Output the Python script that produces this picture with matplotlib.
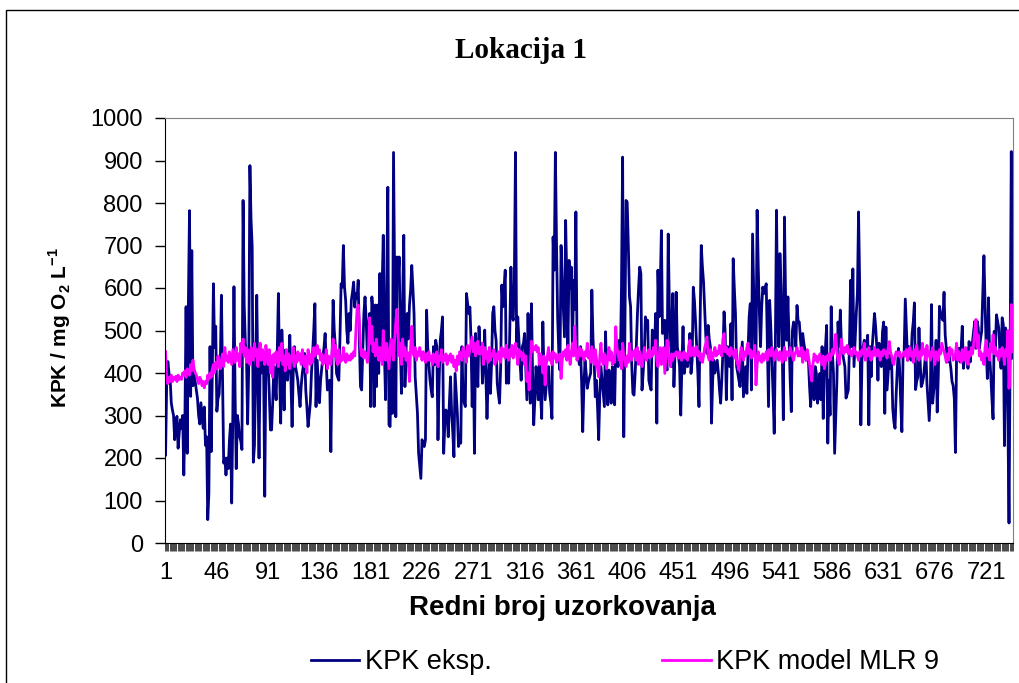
import numpy as np
import matplotlib.pyplot as plt
from matplotlib.patches import Rectangle

plt.rcParams['font.family'] = ['Liberation Sans', 'DejaVu Sans']
plt.rcParams['mathtext.fontset'] = 'custom'
plt.rcParams['mathtext.rm'] = 'Liberation Sans'
plt.rcParams['mathtext.bf'] = 'Liberation Sans:bold'

# KPK measured (mg O2/L), sample 1..744
kpk_eksp = [
    207, 380, 427, 400, 387, 330, 313, 300, 243, 280,
    298, 223, 260, 290, 270, 300, 160, 300, 556, 211,
    560, 782, 345, 688, 370, 400, 380, 360, 340, 300,
    280, 330, 300, 270, 320, 230, 250, 55, 117, 462,
    215, 400, 610, 460, 510, 310, 340, 350, 420, 583,
    380, 188, 200, 160, 200, 175, 240, 280, 94, 300,
    603, 350, 175, 300, 280, 250, 240, 220, 806, 560,
    470, 440, 280, 420, 888, 760, 697, 190, 230, 400,
    583, 380, 200, 430, 400, 450, 420, 110, 430, 420,
    422, 350, 266, 266, 330, 415, 380, 337, 450, 587,
    400, 282, 501, 420, 313, 454, 400, 383, 430, 489,
    380, 274, 400, 462, 415, 400, 383, 350, 321, 370,
    400, 420, 446, 360, 320, 274, 300, 330, 400, 446,
    500, 563, 321, 430, 380, 330, 383, 410, 438, 460,
    493, 420, 360, 370, 383, 215, 420, 571, 500, 462,
    399, 390, 383, 480, 610, 602, 700, 602, 571, 500,
    470, 540, 500, 571, 590, 614, 555, 587, 575, 618,
    480, 368, 360, 450, 540, 579, 525, 446, 500, 540,
    321, 579, 540,
    321, 560, 368, 560, 399, 634, 462,
    600, 724, 450, 337, 600, 837, 278, 274, 462, 305,
    919, 600, 297, 673, 620, 673, 462, 352, 571, 724,
    368, 450, 540, 480, 560, 595, 653, 600, 540, 391,
    350, 305, 211, 180, 152, 243, 235, 227, 243, 548,
    462, 420, 383, 360, 344, 462, 420, 477, 462, 243,
    380, 477, 500, 532, 211, 280, 313, 305, 250, 330,
    391, 305, 260, 203, 399, 350, 305, 227, 243, 235,
    462, 344, 330, 321, 587, 563, 540, 555, 477, 321,
    462, 211, 493, 420, 368, 509, 450,
    469, 376, 420,
    501, 400, 293, 380, 446, 352, 420, 540, 556, 500,
    477, 376, 350, 329, 415, 607, 556, 600, 642, 376,
    400, 376, 500, 649, 540, 524, 620, 919, 462, 532,
    480, 423, 383, 462, 470, 493, 415, 337, 540, 400,
    329, 563, 400, 278, 337, 415, 380, 337, 438, 350,
    293, 520, 400, 337, 368, 400, 415, 352, 330, 293,
    720, 642, 919, 704, 532, 450, 407, 700, 618, 550,
    485, 759, 618, 462, 665, 600, 649, 446, 618, 550,
    779, 462, 446, 420, 462, 380, 262, 368, 430, 400,
    364, 380, 390, 400, 595, 480, 430, 344, 383, 320,
    243, 352, 415, 383, 350, 321, 497, 400, 325, 407,
    360, 329, 415, 380, 325, 462, 440, 415, 477, 430,
    600, 908, 250, 500, 806, 802, 700, 580, 556, 420,
    352, 348, 400, 462, 540, 600, 649, 634, 360, 400,
    446, 532, 520, 524, 383, 370, 360, 501, 480, 462,
    540, 282, 642, 532, 600, 735, 493, 500, 524, 423,
    407, 727, 560, 477, 415, 587, 368, 450, 590, 462,
    440, 415, 301, 420, 509, 399, 420, 430, 415, 450,
    493, 399, 430,
    602, 571, 520, 462, 400, 321, 524,
    700, 650, 614, 550, 485, 446, 512, 480, 462, 282,
    383, 430, 400, 415, 430, 400, 360, 329, 383, 450,
    544, 493, 337, 462, 420, 415, 516, 337, 669, 600,
    540, 415, 400, 383, 368, 420, 473, 344, 380, 415,
    352, 450, 532, 563, 360, 727, 600, 462, 430, 783,
    650, 540, 462, 556, 602, 587, 600, 610, 462, 321,
    571, 508, 430, 350, 258, 462, 783, 540, 462, 681,
    600, 462, 290, 767, 571, 477, 579, 480, 383, 309,
    501, 520, 501, 462, 559, 520,
    520, 480, 446, 493,
    470, 454, 430, 440, 430, 368, 321, 415, 380, 337,
    415, 399, 329, 360, 399, 337, 462, 293, 400, 462,
    512, 235, 383, 301, 556, 450, 399, 211, 300, 383,
    520, 462, 548, 462, 446, 430, 415, 341, 350, 360,
    462, 618, 462, 645, 415, 480, 540, 587, 779, 602,
    278, 430, 462, 477, 470, 462, 489, 278, 462, 391,
    462, 500, 540, 508, 462, 383, 470, 440, 415, 497,
    520, 305, 508, 360, 400, 442, 411, 426, 316, 285,
    270, 350, 411, 458, 411, 330, 262, 435, 450,
    574,
    500, 430, 462, 440, 430, 493, 520, 565, 361, 380,
    391, 506, 430, 368, 376, 391, 420, 454, 376, 330,
    288, 355, 561, 329, 360, 383, 477, 308, 399, 557,
    540, 530, 524, 590, 490, 458, 426, 458, 430, 411,
    380, 370, 340, 213, 442, 450, 458, 426, 458, 510,
    411, 435, 450, 458, 411, 474, 426, 458, 474, 500,
    522, 458, 522, 506, 458, 480, 498, 585, 676, 560,
    458, 387, 577, 442, 395, 340, 292, 498, 458, 537,
    522, 506, 450, 411, 530, 514, 229, 506, 458, 300,
    47, 458, 921, 435,
]

# KPK predicted by the MLR 9 model
kpk_mlr9 = [
    450, 385, 375, 390, 380, 395, 380, 390, 385, 392,
    380, 395, 385, 390, 385, 400, 395, 405, 390, 410,
    400, 395, 420, 405, 430, 410, 400, 395, 385, 375,
    390, 385, 370, 380, 365, 380, 375, 395, 385, 400,
    390, 410, 420, 400, 425, 410, 440, 420, 410, 430,
    445, 415, 460, 430, 440, 425, 450, 435, 420, 455,
    440, 425, 460, 430, 445, 415, 470, 450, 480, 440,
    460, 425, 455, 440, 420, 460, 445, 430, 470, 440,
    455, 415, 450, 470, 430, 455, 440, 420, 465, 445,
    420, 455, 400, 440, 390, 445, 425, 450, 430, 415,
    460, 430, 470, 420, 440, 405, 455, 420, 445, 410,
    440, 430, 460, 415, 440, 425, 450, 430, 445, 420,
    455, 430, 415, 440, 400, 455, 435, 420, 445, 425,
    460, 440, 450, 465, 445, 455, 430, 445, 420, 440,
    425, 455, 410, 440, 430, 420, 450, 480, 440, 465,
    430, 420, 455, 425, 440, 430, 460, 435, 425, 445,
    430, 440, 430, 445, 435, 450, 440, 500, 550, 560,
    520, 460, 440, 455, 435, 450, 440, 425, 445, 530,
    470, 510, 450,
    470, 440, 480, 450, 430, 460, 440,
    420, 500, 450, 430, 470, 440, 410, 460, 480, 445,
    430, 480, 520, 550, 490, 440, 470, 420, 480, 440,
    460, 430, 450, 420, 380, 460, 510, 450, 440, 460,
    430, 450, 440, 460, 445, 430, 450, 440, 425, 445,
    430, 450, 430, 440, 420, 445, 430, 425, 450, 415,
    440, 430, 455, 425, 440, 430, 445, 420, 440, 430,
    445, 425, 440, 415, 430, 405, 440, 420, 450, 440,
    430, 460, 440, 450, 425, 465, 440, 455, 470, 485,
    450, 470, 440, 460, 475, 445, 460,
    445, 470, 420,
    460, 435, 450, 425, 460, 430, 445, 440, 455, 420,
    445, 430, 450, 440, 425, 460, 440, 455, 435, 465,
    445, 430, 455, 440, 465, 435, 450, 470, 445, 420,
    455, 440, 450, 430, 445, 420, 440, 380, 400, 360,
    420, 475, 450, 460, 455, 465, 450, 460, 420, 445,
    430, 400, 440, 372, 420, 440, 460, 430, 445, 420,
    450, 435, 445, 425, 440, 430, 445, 387, 430, 450,
    440, 455, 430, 465, 440, 420, 450, 470, 440, 510,
    450, 430, 445, 460, 440, 455, 445, 430, 450, 440,
    470, 435, 450, 425, 462, 440, 420, 455, 435, 410,
    391, 440, 470, 430, 420, 445, 435, 410, 440, 460,
    430, 450, 420, 440, 425, 509, 460, 445, 430, 450,
    410, 470, 440, 430, 415, 440, 425, 470, 445, 430,
    450, 440, 455, 430, 460, 420, 450, 440, 415, 430,
    460, 445, 430, 440, 455, 435, 450, 440, 460, 445,
    477, 430, 415, 440, 460, 420, 445, 460, 399, 440,
    477, 450, 430, 415, 445, 430, 445, 440, 450, 445,
    435, 450, 440, 430, 445, 450, 435, 445, 430, 460,
    477, 440, 445,
    460, 440, 455, 462, 440, 450, 430,
    445, 425, 440, 460, 470, 485, 440, 430, 455, 440,
    430, 450, 460, 440, 450, 445, 465, 450, 440, 480,
    493, 450, 460, 445, 455, 440, 460, 445, 450, 435,
    455, 430, 420, 407, 440, 460, 445, 430, 450, 440,
    460, 470, 445, 455, 435, 450, 440, 465, 372, 420,
    450, 430, 440, 425, 445, 430, 440, 450, 430, 455,
    445, 440, 460, 450, 430, 445, 455, 440, 430, 450,
    440, 425, 445, 460, 430, 450, 445, 440, 460, 450,
    440, 430, 445, 450, 460, 440,
    450, 440, 460, 425,
    450, 440, 430, 455, 440, 420, 395, 381, 420, 445,
    430, 440, 425, 435, 445, 430, 420, 440, 410, 425,
    440, 430, 445, 430, 440, 455, 445, 470, 491, 450,
    430, 420, 445, 480, 450, 445, 460, 450, 465, 445,
    455, 450, 440, 455, 460, 445, 450, 440, 430, 450,
    440, 455, 445, 470, 430, 450, 440, 460, 445, 430,
    450, 440, 460, 450, 440, 455, 445, 430, 450, 440,
    455, 445, 450, 435, 460, 474, 450, 440, 425, 420,
    440, 450, 445, 440, 450, 435, 440, 445, 450,
    440,
    455, 430, 445, 460, 440, 450, 425, 455, 440, 465,
    445, 430, 450, 440, 470, 445, 455, 430, 465, 440,
    450, 430, 445, 460, 440, 420, 450, 440, 430, 455,
    445, 470, 460, 450, 440, 425, 445, 430, 460, 445,
    455, 430, 440, 445, 470, 430, 450, 440, 425, 455,
    440, 430, 460, 445, 420, 450, 440, 460, 445, 470,
    500, 526, 460, 490, 440, 450, 430, 445, 420, 460,
    477, 440, 455, 430, 470, 450, 490, 445, 460, 440,
    450, 430, 455, 440, 460, 445, 420, 455, 440, 500,
    364, 440, 561, 450,
]

x_labels = list(range(1, 722, 45))
y_ticks = list(range(0, 1001, 100))

W, H = 1019, 683
fig = plt.figure(figsize=(W / 100, H / 100), dpi=100)

# thin frame round the whole chart
fig.add_artist(Rectangle((6 / W, -0.1), 1.2, 1 - 10 / H + 0.1,
                         transform=fig.transFigure, fill=False,
                         edgecolor='black', lw=1.0))

ax = fig.add_axes([165 / W, 1 - 543 / H, 848 / W, 425 / H])

n = len(kpk_eksp)
ax.plot(np.arange(1, n + 1), kpk_eksp, color='#000080', lw=2.0,
        label='KPK eksp.')
ax.plot(np.arange(1, len(kpk_mlr9) + 1), kpk_mlr9, color='#FF00FF',
        lw=2.0, label='KPK model MLR 9')

ax.set_xlim(0.5, n + 0.5)
ax.set_ylim(0, 1000)
ax.set_yticks(y_ticks)
ax.set_xticks(x_labels)
ax.set_xticklabels([str(v) for v in x_labels])
ax.set_xticks(np.arange(0.5, n + 1, 1), minor=True)

ax.tick_params(axis='y', length=7, width=1, pad=9, labelsize=17,
               direction='out')
ax.tick_params(axis='x', which='major', length=0, pad=14, labelsize=17)
ax.tick_params(axis='x', which='minor', length=6, width=0.5,
               direction='out')

for side in ['top', 'right']:
    ax.spines[side].set_color('#808080')
for side in ['left', 'bottom']:
    ax.spines[side].set_color('black')

fig.text(521 / W, 1 - 50 / H, 'Lokacija 1', family='Liberation Serif',
         weight='bold', fontsize=21, ha='center', va='center')
fig.text(562 / W, 1 - 608 / H, 'Redni broj uzorkovanja', weight='bold',
         fontsize=20, ha='center', va='center')
fig.text(60 / W, 1 - 328 / H,
         r'KPK / mg O$_{\mathbf{2}}$ L$^{\mathbf{-1}}$', weight='bold',
         fontsize=15, rotation=90, ha='center', va='center')

fig.legend(loc='center', bbox_to_anchor=(625 / W, 1 - 662 / H), ncol=2,
           frameon=False, fontsize=19.5, handlelength=1.8, handletextpad=0.2,
           columnspacing=6.3)

fig.savefig('out.png', dpi=100)
